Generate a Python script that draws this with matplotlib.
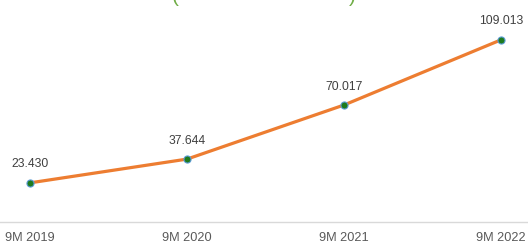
import matplotlib
matplotlib.use("Agg")
import matplotlib.pyplot as plt

plt.rcParams["font.family"] = ["Liberation Sans", "DejaVu Sans"]

periods = ["9M 2019", "9M 2020", "9M 2021", "9M 2022"]
values = [23.430, 37.644, 70.017, 109.013]
value_labels = ["23.430", "37.644", "70.017", "109.013"]

W, H = 528, 244
fig = plt.figure(figsize=(W / 100, H / 100), dpi=100)
ax = fig.add_axes([0, 22 / H, 1, 200.5 / H])

x = list(range(len(periods)))
ax.plot(x, values, color="#ED7D31", lw=2.3, zorder=2)
ax.scatter(x, values, s=26, color="#1E7B1E", edgecolors="#5B9BD5",
           linewidths=0.8, zorder=3)

for xi, v, lab in zip(x, values, value_labels):
    ax.annotate(lab, (xi, v), xytext=(0, 9), textcoords="offset points",
                ha="center", va="bottom", fontsize=8.7, color="#404040")

ax.set_xlim(-30 / 157, 3 + 27 / 157)
ax.set_ylim(0, 120)
ax.set_xticks(x)
ax.set_xticklabels(periods, fontsize=9.2, color="#595959")
ax.tick_params(axis="x", length=0, pad=7.5)
ax.set_yticks([])
for side in ["top", "right", "left"]:
    ax.spines[side].set_visible(False)
ax.spines["bottom"].set_color("#D9D9D9")
ax.spines["bottom"].set_linewidth(1)

# title sits mostly above the crop; only the brackets show
fig.text(175 / W, 0.99, "(", color="#70AD47", fontsize=15, ha="center", va="baseline")
fig.text(352 / W, 0.99, ")", color="#70AD47", fontsize=15, ha="center", va="baseline")

fig.savefig("out.png", dpi=100)
